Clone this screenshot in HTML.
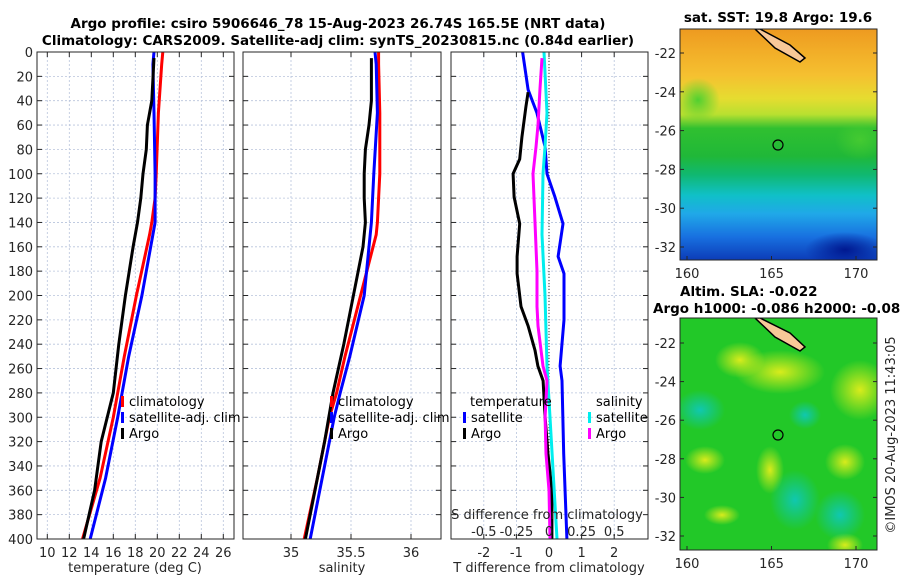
<!DOCTYPE html>
<html><head><meta charset="utf-8"><style>
body{margin:0;background:#fff;}
svg{display:block;font-family:"DejaVu Sans","Liberation Sans",sans-serif;}
.tk{font-size:13px;fill:#262626;}
.ttl{font-size:13.5px;font-weight:bold;fill:#000;}
.lg{font-size:13px;fill:#000;}
.grid{stroke:#b8c4dc;stroke-width:0.8;stroke-dasharray:2,2;}
</style></head><body>
<svg id="chart" width="900" height="580" viewBox="0 0 900 580">
<defs>
<linearGradient id="sstg" x1="0" y1="0" x2="0" y2="1">
<stop offset="0" stop-color="#ee9a20"/><stop offset="0.1" stop-color="#f2ae28"/>
<stop offset="0.2" stop-color="#f5c030"/><stop offset="0.3" stop-color="#e6dc30"/>
<stop offset="0.37" stop-color="#b8e030"/><stop offset="0.43" stop-color="#30c030"/>
<stop offset="0.55" stop-color="#20b838"/><stop offset="0.63" stop-color="#10b870"/>
<stop offset="0.72" stop-color="#10c0c8"/><stop offset="0.8" stop-color="#20a8e8"/>
<stop offset="0.9" stop-color="#1870e0"/><stop offset="1" stop-color="#0c3cb8"/></linearGradient>
<radialGradient id="ylw"><stop offset="0" stop-color="#d8ec1c"/><stop offset="1" stop-color="#d8ec1c" stop-opacity="0"/></radialGradient>
<radialGradient id="tel"><stop offset="0" stop-color="#10c8b0"/><stop offset="1" stop-color="#10c8b0" stop-opacity="0"/></radialGradient>
<radialGradient id="grn"><stop offset="0" stop-color="#50d030"/><stop offset="1" stop-color="#50d030" stop-opacity="0"/></radialGradient>
<radialGradient id="dbl"><stop offset="0" stop-color="#001890"/><stop offset="1" stop-color="#001890" stop-opacity="0"/></radialGradient>
<clipPath id="m1c"><rect x="680" y="29" width="197" height="231"/></clipPath>
<clipPath id="m2c"><rect x="680" y="318" width="197" height="232"/></clipPath>
<clipPath id="p1c"><rect x="37" y="52" width="197" height="487"/></clipPath>
<clipPath id="p2c"><rect x="243" y="52" width="198" height="487"/></clipPath>
<clipPath id="p3c"><rect x="451" y="52" width="197" height="487"/></clipPath>
</defs>
<text class="ttl" x="338" y="28" text-anchor="middle">Argo profile: csiro 5906646_78 15-Aug-2023 26.74S 165.5E (NRT data)</text>
<text class="ttl" x="338" y="45" text-anchor="middle">Climatology: CARS2009. Satellite-adj clim: synTS_20230815.nc (0.84d earlier)</text>
<g id="panels"></g>

<!-- Map 1 SST -->
<g>
<g clip-path="url(#m1c)">
<rect x="680" y="29" width="197" height="231" fill="url(#sstg)"/>
<ellipse cx="698" cy="100" rx="22" ry="22" fill="url(#grn)"/>
<ellipse cx="845" cy="250" rx="40" ry="18" fill="url(#dbl)"/>
<ellipse cx="860" cy="140" rx="25" ry="20" fill="url(#grn)" opacity="0.7"/>
<path d="M760,29 L790,45 L805,58 L800,62 L775,48 L755,29Z" fill="#f8c898" stroke="#000" stroke-width="1.5"/>
</g>
<rect x="680" y="29" width="197" height="231" fill="none" stroke="#262626" stroke-width="1"/>
<circle cx="778" cy="145" r="5" fill="none" stroke="#000" stroke-width="1.2"/>
<text class="ttl" x="778" y="22" text-anchor="middle">sat. SST: 19.8 Argo: 19.6</text>
</g>
<!-- Map 2 SLA -->
<g>
<g clip-path="url(#m2c)">
<rect x="680" y="318" width="197" height="232" fill="#22c828"/>
<ellipse cx="780" cy="372" rx="45" ry="22" fill="url(#ylw)"/>
<ellipse cx="740" cy="360" rx="25" ry="18" fill="url(#ylw)"/>
<ellipse cx="860" cy="390" rx="30" ry="30" fill="url(#ylw)"/>
<ellipse cx="705" cy="460" rx="20" ry="14" fill="url(#ylw)"/>
<ellipse cx="770" cy="470" rx="14" ry="24" fill="url(#ylw)"/>
<ellipse cx="845" cy="462" rx="20" ry="18" fill="url(#ylw)"/>
<ellipse cx="722" cy="515" rx="18" ry="10" fill="url(#ylw)"/>
<ellipse cx="845" cy="545" rx="18" ry="12" fill="url(#ylw)"/>
<ellipse cx="840" cy="515" rx="25" ry="25" fill="url(#tel)"/>
<ellipse cx="700" cy="410" rx="25" ry="20" fill="url(#tel)"/>
<ellipse cx="795" cy="500" rx="25" ry="30" fill="url(#tel)"/>
<ellipse cx="805" cy="415" rx="16" ry="14" fill="url(#tel)"/>
<path d="M760,318 L790,333 L805,347 L800,351 L775,337 L755,318Z" fill="#f8c898" stroke="#000" stroke-width="1.5"/>
</g>
<rect x="680" y="318" width="197" height="232" fill="none" stroke="#262626" stroke-width="1"/>
<circle cx="778" cy="435" r="5" fill="none" stroke="#000" stroke-width="1.2"/>
<text class="ttl" x="680" y="296">Altim. SLA: -0.022</text>
<text class="ttl" x="653" y="313">Argo h1000: -0.086 h2000: -0.086</text>
</g>
<text class="tk" transform="translate(895,435) rotate(-90)" text-anchor="middle">©IMOS 20-Aug-2023 11:43:05</text>
<g id="maps-axes"></g>

<script>
// Depths (m)
const tDepth = [0, 10, 50, 100, 120, 140, 150, 200, 250, 280, 300, 350, 400];
const tClim  = [20.5, 20.4, 20.1, 19.9, 19.8, 19.5, 19.3, 18.1, 17.0, 16.4, 16.0, 14.8, 13.2];
const tSat   = [19.7, 19.6, 19.7, 19.8, 19.8, 19.8, 19.6, 18.6, 17.4, 16.8, 16.4, 15.3, 13.9];
const argoDepth = [5, 40, 60, 80, 100, 120, 140, 160, 200, 240, 280, 320, 360, 400];
const tArgo = [19.7, 19.5, 19.1, 19.0, 18.7, 18.5, 18.2, 17.8, 17.1, 16.5, 16.0, 14.9, 14.3, 13.3];
const sClim = [35.73, 35.73, 35.74, 35.74, 35.73, 35.72, 35.71, 35.58, 35.45, 35.38, 35.32, 35.22, 35.11];
const sSat  = [35.70, 35.71, 35.72, 35.69, 35.68, 35.67, 35.66, 35.61, 35.49, 35.41, 35.36, 35.26, 35.16];
const sArgo = [35.67, 35.67, 35.65, 35.62, 35.61, 35.61, 35.62, 35.60, 35.52, 35.44, 35.35, 35.28, 35.20, 35.12];
// Difference panel
const dTDepth = [0, 31, 50, 78, 100, 119, 141, 168, 182, 220, 258, 270, 330, 400];
const dTSat = [-0.81, -0.64, -0.37, -0.12, -0.06, 0.18, 0.43, 0.28, 0.46, 0.46, 0.34, 0.40, 0.45, 0.55];
const dTArgoDepth = [33, 45, 70, 88, 100, 119, 141, 168, 182, 209, 225, 245, 258, 270, 300, 330, 360, 400];
const dTArgo = [-0.64, -0.71, -0.83, -0.9, -1.1, -1.07, -0.9, -0.98, -0.98, -0.86, -0.64, -0.43, -0.34, -0.18, -0.12, -0.03, 0.09, 0.09];
const dSArgoDepth = [5, 30, 60, 78, 100, 140, 180, 209, 225, 258, 270, 300, 330, 360, 400];
const dSArgo = [-0.054, -0.069, -0.084, -0.10, -0.123, -0.107, -0.092, -0.092, -0.084, -0.046, -0.015, -0.03, -0.023, 0, 0.008];
const dSSatDepth = [0, 50, 78, 100, 150, 200, 258, 300, 400];
const dSSat = [-0.038, -0.015, -0.031, -0.046, -0.054, -0.031, -0.015, 0.008, 0.061];
const depthTicks = [0,20,40,60,80,100,120,140,160,180,200,220,240,260,280,300,320,340,360,380,400];
const tTicks = [10,12,14,16,18,20,22,24,26];
const sTicks = [35, 35.5, 36];
const dTTicks = [-2,-1,0,1,2];
const dSTicks = [-0.5,-0.25,0,0.25,0.5];
const dSLabels = ['-0.5','-0.25','0','0.25','0.5'];

const NS='http://www.w3.org/2000/svg';
const root=document.getElementById('panels');
function mk(tag,attrs,parent){const e=document.createElementNS(NS,tag);for(const k in attrs)e.setAttribute(k,attrs[k]);(parent||root).appendChild(e);return e;}
const Y0=52,Y1=539;
const yD=d=>Y0+(d/400)*(Y1-Y0);
const xT=t=>47.3+(t-10)*(223.3-47.3)/16;
const xS=s=>291+(s-35)*120;
const xDT=v=>549+v*32.6;
const xDS=v=>549+v*130.4;

function frame(x0,x1,name,xticks,xfn,labels,showY){
  const g=mk('g',{});
  
  
  depthTicks.forEach(d=>{mk('line',{x1:x0,x2:x1,y1:yD(d),y2:yD(d),class:'grid'},g);
    mk('line',{x1:x0,x2:x0+5,y1:yD(d),y2:yD(d),stroke:'#262626'},g);
    mk('line',{x1:x1-5,x2:x1,y1:yD(d),y2:yD(d),stroke:'#262626'},g);
    if(showY){const t=mk('text',{x:x0-4,y:yD(d)+5,class:'tk','text-anchor':'end'},g);t.textContent=d;
      
      }
  });
  xticks.forEach((v,i)=>{const x=xfn(v);
    mk('line',{x1:x,x2:x,y1:Y0,y2:Y1,class:'grid'},g);
    mk('line',{x1:x,x2:x,y1:Y1-5,y2:Y1,stroke:'#262626'},g);
    mk('line',{x1:x,x2:x,y1:Y0,y2:Y0+5,stroke:'#262626'},g);
    const t=mk('text',{x:x,y:Y1+18,class:'tk','text-anchor':'middle'},g);t.textContent=labels?labels[i]:v;
    
    
  });
  return g;
}
function line(xs,ds,fn,col,name,clip){
  const pts=xs.map((v,i)=>fn(v).toFixed(1)+','+yD(ds[i]).toFixed(1)).join(' ');
  const p=mk('polyline',{points:pts,fill:'none',stroke:col,'stroke-width':3,'stroke-linejoin':'round','clip-path':clip});
  
  
}
function box(x0,x1){mk('rect',{x:x0,y:Y0,width:x1-x0,height:Y1-Y0,fill:'none',stroke:'#262626','stroke-width':1});}
function label(x,y,txt,name,anchor,cls){const t=mk('text',{x:x,y:y,class:cls||'tk','text-anchor':anchor||'middle'});t.textContent=txt;
  
  }
function legend(x,y,col,txt,name){mk('rect',{x:x,y:y-10,width:3,height:11,fill:col});
  const t=mk('text',{x:x+8,y:y,class:'lg'});t.textContent=txt;
  
  }

// Panel 1
frame(37,234,'temperature-panel',tTicks,xT,null,true);
line(tClim,tDepth,xT,'#ff0000','temperature-climatology-line','url(#p1c)');
line(tSat,tDepth,xT,'#0000ff','temperature-satellite-line','url(#p1c)');
line(tArgo,argoDepth,xT,'#000000','temperature-argo-line','url(#p1c)');
box(37,234);
label(135,572,'temperature (deg C)','temperature-axis-title');
legend(121,406,'#ff0000','climatology','legend-climatology');
legend(121,422,'#0000ff','satellite-adj. clim','legend-satellite');
legend(121,438,'#000000','Argo','legend-argo');

// Panel 2
frame(243,441,'salinity-panel',sTicks,xS,null,false);
line(sClim,tDepth,xS,'#ff0000','salinity-climatology-line','url(#p2c)');
line(sSat,tDepth,xS,'#0000ff','salinity-satellite-line','url(#p2c)');
line(sArgo,argoDepth,xS,'#000000','salinity-argo-line','url(#p2c)');
box(243,441);
label(342,572,'salinity','salinity-axis-title');
legend(330,406,'#ff0000','climatology','legend-climatology-2');
legend(330,422,'#0000ff','satellite-adj. clim','legend-satellite-2');
legend(330,438,'#000000','Argo','legend-argo-2');

// Panel 3
frame(451,648,'difference-panel',dTTicks,xDT,null,false);
mk('line',{x1:549,x2:549,y1:Y0,y2:Y1,stroke:'#333','stroke-width':1,'stroke-dasharray':'1,2'});
line(dTSat,dTDepth,xDT,'#0000ff','temperature-diff-satellite-line','url(#p3c)');
line(dTArgo,dTArgoDepth,xDT,'#000000','temperature-diff-argo-line','url(#p3c)');
line(dSSat,dSSatDepth,xDS,'#00eeee','salinity-diff-satellite-line','url(#p3c)');
line(dSArgo,dSArgoDepth,xDS,'#ff00ff','salinity-diff-argo-line','url(#p3c)');
box(451,648);
label(549,572,'T difference from climatology','t-diff-axis-title');
label(547,519,'S difference from climatology','s-diff-axis-title');
dSTicks.forEach((v,i)=>label(xDS(v),536,dSLabels[i],'s-diff-tick-label'));
label(470,406,'temperature','legend-temperature-header','start','lg');
legend(463,422,'#0000ff','satellite','legend-t-satellite');
legend(463,438,'#000000','Argo','legend-t-argo');
label(596,406,'salinity','legend-salinity-header','start','lg');
legend(588,422,'#00eeee','satellite','legend-s-satellite');
legend(588,438,'#ff00ff','Argo','legend-s-argo');

// Map axes
const latTicks=[-22,-24,-26,-28,-30,-32];
const lonTicks=[160,165,170];
const ma=document.getElementById('maps-axes');
[[53,247,260],[343,536,550]].forEach((m,mi)=>{
  const yl=l=>m[0]+(l+22)/(-10)*(m[1]-m[0]);
  const xl=l=>687+(l-160)*16.9;
  latTicks.forEach(l=>{mk('line',{x1:680,x2:684,y1:yl(l),y2:yl(l),stroke:'#262626'},ma);
    mk('line',{x1:873,x2:877,y1:yl(l),y2:yl(l),stroke:'#262626'},ma);
    const t=mk('text',{x:676,y:yl(l)+5,class:'tk','text-anchor':'end'},ma);t.textContent=l;
    
    });
  lonTicks.forEach(l=>{mk('line',{x1:xl(l),x2:xl(l),y1:m[2]-4,y2:m[2],stroke:'#262626'},ma);
    const t=mk('text',{x:xl(l),y:m[2]+18,class:'tk','text-anchor':'middle'},ma);t.textContent=l;
    
    });
});
</script>
</svg>
</body></html>
